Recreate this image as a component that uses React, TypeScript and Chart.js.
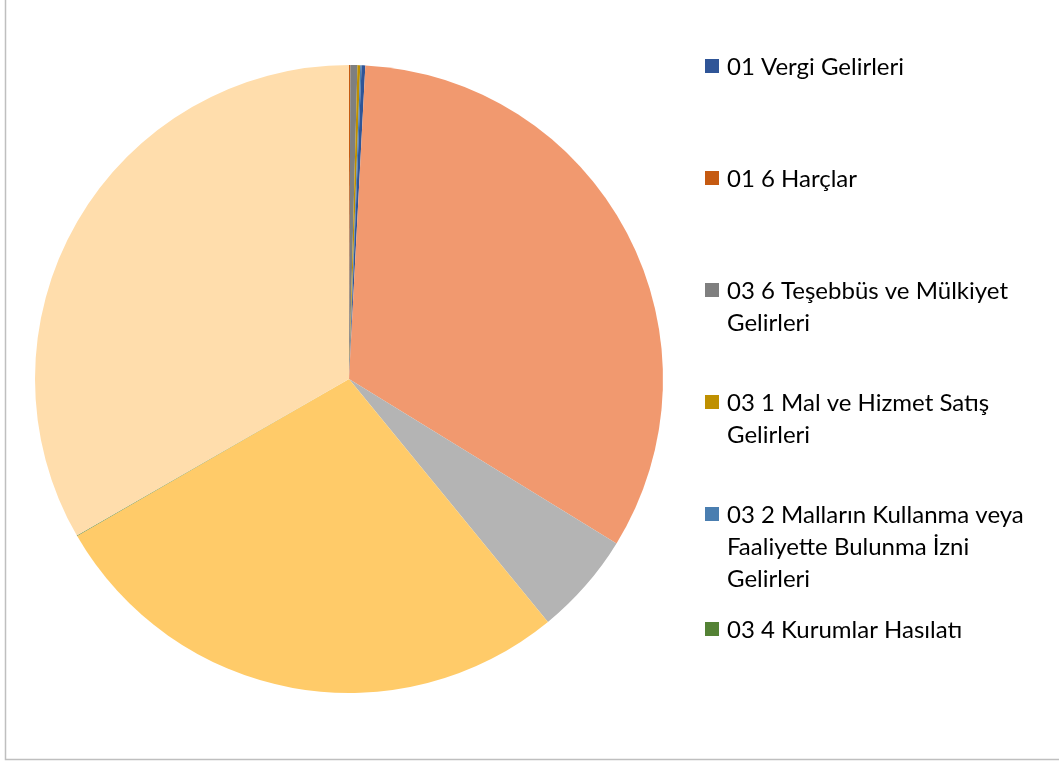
import React, { useEffect, useRef } from "react";
import { Chart, registerables } from "chart.js";

Chart.register(...registerables);

// Slices in clockwise order starting at 12 o'clock
const LABELS = [
  "01 6 Harçlar",
  "03 6 Teşebbüs ve Mülkiyet Gelirleri",
  "03 1 Mal ve Hizmet Satış Gelirleri",
  "03 2 Malların Kullanma veya Faaliyette Bulunma İzni Gelirleri",
  "01 Vergi Gelirleri",
  "Diğer Gelir 1",
  "Diğer Gelir 2",
  "Diğer Gelir 3",
  "03 4 Kurumlar Hasılatı",
  "Diğer Gelir 4",
];
// Share of total, percent
const VALUES = [0.07, 0.36, 0.14, 0.07, 0.19, 32.94, 5.31, 27.58, 0.03, 33.31];
const COLORS = [
  "#C55A11",
  "#7F7F7F",
  "#BF9000",
  "#4A7EB0",
  "#2F5597",
  "#F1996F",
  "#B4B4B4",
  "#FFCB69",
  "#548235",
  "#FFDDAC",
];
// Legend entries as shown (Excel legend is truncated to these six)
const LEGEND_ORDER = [4, 0, 1, 2, 3, 8];
const LEGEND_Y = [66, 178, 290, 402, 514, 629];

const FONT = '24px Lato, "Open Sans", sans-serif';

function wrap(ctx: CanvasRenderingContext2D, text: string, maxW: number): string[] {
  const words = text.split(" ");
  const lines: string[] = [];
  let cur = "";
  for (const w of words) {
    const t = cur ? cur + " " + w : w;
    if (ctx.measureText(t).width > maxW && cur) {
      lines.push(cur);
      cur = w;
    } else cur = t;
  }
  if (cur) lines.push(cur);
  return lines;
}

const decorPlugin = {
  id: "decor",
  afterDraw(chart: any) {
    const ctx: CanvasRenderingContext2D = chart.ctx;
    ctx.save();
    // frame
    ctx.strokeStyle = "#BFBFBF";
    ctx.lineWidth = 1.5;
    ctx.strokeRect(5.5, -10, 1100, 769.5);
    // legend
    ctx.font = FONT;
    ctx.textBaseline = "middle";
    ctx.textAlign = "left";
    LEGEND_ORDER.forEach((idx, i) => {
      const y = LEGEND_Y[i];
      ctx.fillStyle = COLORS[idx];
      ctx.fillRect(705, y - 7, 14, 14);
      ctx.fillStyle = "#000000";
      const lines = wrap(ctx, LABELS[idx], 322);
      lines.forEach((ln, j) => ctx.fillText(ln, 727, y + 1 + j * 32));
    });
    ctx.restore();
  },
};

export default function App() {
  const ref = useRef<HTMLCanvasElement | null>(null);
  useEffect(() => {
    document.body.style.margin = "0";
    const chart = new Chart(ref.current!, {
      type: "pie",
      data: {
        labels: LABELS,
        datasets: [
          {
            data: VALUES,
            backgroundColor: COLORS,
            borderWidth: 0,
          },
        ],
      },
      options: {
        responsive: false,
        animation: false,
        layout: { padding: { left: 35, right: 396, top: 65, bottom: 69 } },
        plugins: {
          legend: { display: false },
          tooltip: { enabled: false },
        },
      },
      plugins: [decorPlugin],
    });
    return () => chart.destroy();
  }, []);
  return (
    <canvas ref={ref} width={1059} height={762} style={{ display: "block", width: 1059, height: 762 }} />
  );
}
